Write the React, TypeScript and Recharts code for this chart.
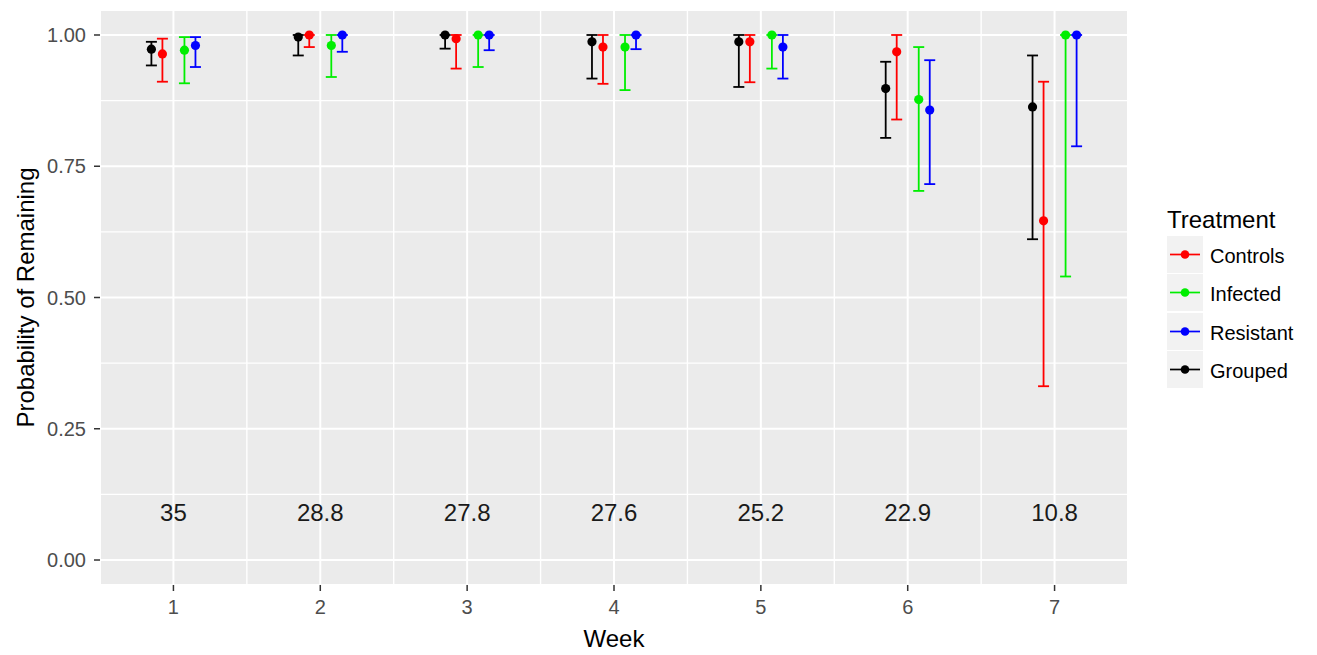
import React from "react";
import {
  ScatterChart,
  Scatter,
  XAxis,
  YAxis,
  CartesianGrid,
  ErrorBar,
  ReferenceLine,
  Legend,
} from "recharts";

const FONT = '"Liberation Sans", Arial, sans-serif';

const weeks = [1, 2, 3, 4, 5, 6, 7];
const yTicks = [0, 0.25, 0.5, 0.75, 1];
const minorX = [1.5, 2.5, 3.5, 4.5, 5.5, 6.5];
const minorY = [0.125, 0.375, 0.625, 0.875];

// numbers printed along the bottom of each week
const weekLabels = ["35", "28.8", "27.8", "27.6", "25.2", "22.9", "10.8"];
const weekLabelY = 0.09;

const controlsMid = [0.964, 1.0, 0.993, 0.977, 0.987, 0.968, 0.646];
const controlsLow = [0.911, 0.977, 0.936, 0.907, 0.91, 0.839, 0.331];
const controlsHigh = [0.993, 1.0, 1.0, 1.0, 1.0, 1.0, 0.911];

const infectedMid = [0.971, 0.98, 1.0, 0.977, 1.0, 0.877, 1.0];
const infectedLow = [0.908, 0.92, 0.939, 0.895, 0.936, 0.703, 0.54];
const infectedHigh = [0.996, 1.0, 1.0, 1.0, 1.0, 0.977, 1.0];

const resistantMid = [0.98, 1.0, 1.0, 1.0, 0.977, 0.857, 1.0];
const resistantLow = [0.939, 0.968, 0.971, 0.973, 0.917, 0.716, 0.788];
const resistantHigh = [0.996, 1.0, 1.0, 1.0, 1.0, 0.952, 1.0];

const groupedMid = [0.973, 0.996, 1.0, 0.987, 0.987, 0.898, 0.863];
const groupedLow = [0.942, 0.961, 0.974, 0.917, 0.901, 0.804, 0.611];
const groupedHigh = [0.987, 1.0, 1.0, 1.0, 1.0, 0.949, 0.961];

const series = [
  { name: "Controls", color: "#FF0000", dodge: -0.075, mid: controlsMid, low: controlsLow, high: controlsHigh },
  { name: "Infected", color: "#00EE00", dodge: 0.075, mid: infectedMid, low: infectedLow, high: infectedHigh },
  { name: "Resistant", color: "#0000FF", dodge: 0.15, mid: resistantMid, low: resistantLow, high: resistantHigh },
  { name: "Grouped", color: "#000000", dodge: -0.15, mid: groupedMid, low: groupedLow, high: groupedHigh },
];

const toPoints = (s: (typeof series)[number]) =>
  weeks.map((w, i) => ({
    x: w + s.dodge,
    y: s.mid[i],
    err: [s.mid[i] - s.low[i], s.high[i] - s.mid[i]],
  }));

const labelPoints = weeks.map((w, i) => ({ x: w, y: weekLabelY, label: weekLabels[i] }));

const TreatmentLegend = () => (
  <div style={{ fontFamily: FONT, color: "#000" }}>
    <div style={{ fontSize: 24, height: 30, whiteSpace: "nowrap" }}>Treatment</div>
    {series.map((s) => (
      <div key={s.name} style={{ display: "flex", alignItems: "center", height: 37, marginBottom: 1.3 }}>
        <svg width={36} height={37} style={{ display: "block" }}>
          <rect x={0} y={0} width={36} height={37} fill="#F2F2F2" />
          <line x1={3} x2={33} y1={18.5} y2={18.5} stroke={s.color} strokeWidth={1.7} />
          <circle cx={18} cy={18.5} r={4.3} fill={s.color} />
        </svg>
        <span style={{ fontSize: 20, marginLeft: 7, paddingTop: 4, whiteSpace: "nowrap" }}>{s.name}</span>
      </div>
    ))}
  </div>
);

const App: React.FC = () => {
  return (
    <div style={{ position: "absolute", left: 0, top: 0, width: 1317, height: 655, background: "#fff" }}>
      <ScatterChart width={1317} height={655} margin={{ top: 10, right: 189, bottom: 0, left: 0 }}>
        <CartesianGrid fill="#EBEBEB" stroke="#FFFFFF" strokeWidth={2} />
        {minorX.map((v) => (
          <ReferenceLine key={`mx${v}`} x={v} stroke="#FFFFFF" strokeWidth={1.4} />
        ))}
        {minorY.map((v) => (
          <ReferenceLine key={`my${v}`} y={v} stroke="#FFFFFF" strokeWidth={1.4} />
        ))}
        <XAxis
          type="number"
          dataKey="x"
          domain={[0.5, 7.5]}
          ticks={weeks}
          allowDataOverflow
          height={70}
          axisLine={false}
          tickSize={6}
          tickMargin={9}
          tickLine={{ stroke: "#333333", strokeWidth: 1.5 }}
          tick={{ fill: "#4D4D4D", fontSize: 20, fontFamily: FONT }}
          label={{
            value: "Week",
            position: "insideBottom",
            offset: 8,
            style: { fill: "#000", fontSize: 24, fontFamily: FONT },
          }}
        />
        <YAxis
          type="number"
          dataKey="y"
          domain={[-0.0476, 1.0476]}
          ticks={yTicks}
          allowDataOverflow
          width={100}
          axisLine={false}
          tickSize={6}
          tickMargin={8}
          tickLine={{ stroke: "#333333", strokeWidth: 1.5 }}
          tick={{ fill: "#4D4D4D", fontSize: 20, fontFamily: FONT }}
          tickFormatter={(v: number) => v.toFixed(2)}
          label={{
            value: "Probability of Remaining",
            angle: -90,
            position: "insideLeft",
            offset: 25,
            style: { fill: "#000", fontSize: 24, fontFamily: FONT, textAnchor: "middle" },
          }}
        />
        {series.map((s) => (
          <Scatter
            key={s.name}
            name={s.name}
            data={toPoints(s)}
            fill={s.color}
            isAnimationActive={false}
            shape={(p: any) => <circle cx={p.cx} cy={p.cy} r={4.6} fill={s.color} />}
          >
            <ErrorBar
              dataKey="err"
              direction="y"
              width={5.5}
              stroke={s.color}
              strokeWidth={1.8}
              isAnimationActive={false}
            />
          </Scatter>
        ))}
        <Scatter
          name="n"
          data={labelPoints}
          isAnimationActive={false}
          legendType="none"
          shape={(p: any) => (
            <text
              x={p.cx}
              y={p.cy}
              textAnchor="middle"
              dominantBaseline="central"
              fontSize={24}
              fontFamily={FONT}
              fill="#1A1A1A"
            >
              {p.payload.label}
            </text>
          )}
        />
        <Legend
          layout="horizontal"
          verticalAlign="middle"
          align="center"
          wrapperStyle={{ left: 1167, top: 206, width: 150, height: 190 }}
          content={() => <TreatmentLegend />}
        />
      </ScatterChart>
    </div>
  );
};

export default App;
